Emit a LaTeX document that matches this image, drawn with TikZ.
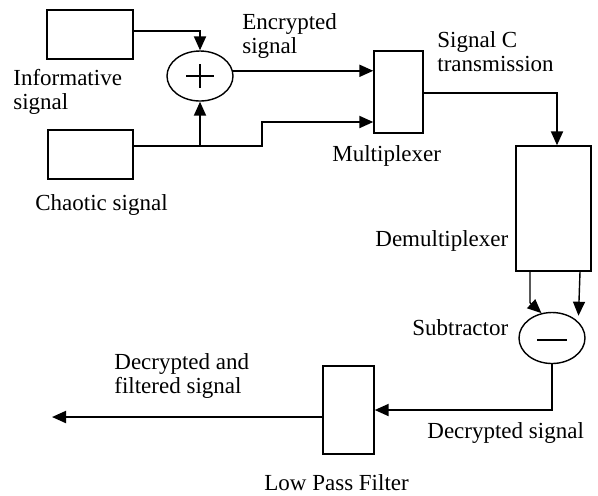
\documentclass[tikz,border=0pt]{standalone}
\usepackage{fontspec}
\setmainfont{Liberation Serif}
\usetikzlibrary{arrows.meta,shapes.geometric}

\begin{document}
\begin{tikzpicture}[x=0.5pt,y=-0.5pt]
    \tikzstyle{block}=[draw, line width=0.7pt, inner sep=0pt]
    \tikzstyle{sum}=[draw, ellipse, line width=0.7pt, inner sep=0pt, minimum width=33pt, minimum height=25pt]
    \tikzstyle{txt}=[anchor=base west, inner sep=0pt, align=left, font=\fontsize{11.5}{11.75}\selectfont]
    \tikzstyle{wire}=[line width=1pt, -{Triangle[length=7pt,width=6pt]}]
    \useasboundingbox (0,0) rectangle (598,495);
    \node[block, minimum width=43pt, minimum height=24.5pt] (info) at (90,34.5) {};
    \node[block, minimum width=42.5pt, minimum height=24.5pt] (chaos) at (90.5,154.5) {};
    \node[sum] (add) at (200,76) {};
    \node[block, minimum width=24.5pt, minimum height=41pt] (mux) at (398.5,92) {};
    \node[block, minimum width=37.5pt, minimum height=62.5pt] (demux) at (553.5,208.5) {};
    \node[sum, minimum height=25.5pt] (sub) at (552,338) {};
    \node[block, minimum width=25.5pt, minimum height=44pt] (lpf) at (348.5,410) {};
    \draw[line width=0.6pt] (add.center) +(-14,0) -- +(14,0) +(0,-12) -- +(0,12);
    \draw[line width=0.6pt] (sub.center) +(-15,2) -- +(15,2);
    \coordinate (fork) at (200,146);
    \coordinate (bend) at (262,146);
    \coordinate (out) at (52,417);
    \draw[wire] ([yshift=1.75pt]info.east) -| (add.north);
    \draw[wire] ([yshift=4.25pt]chaos.east) -| (add.south);
    \draw[wire] (fork) -- (bend) |- ([yshift=-15pt]mux.west);
    \draw[wire] (add.9) -- (mux.west |- add.9);
    \draw[wire] ([yshift=-0.5pt]mux.east) -| ([xshift=1.75pt]demux.north);
    \draw[wire, line width=0.7pt] ([xshift=-11.75pt]demux.south) -- ++(0,31) -- (sub.113);
    \draw[wire, line width=0.7pt] ([xshift=13.25pt]demux.south) -- ++(-1.5,44);
    \draw[wire] (sub.south) |- (lpf.east);
    \draw[wire] ([yshift=-3.5pt]lpf.west) -- (out);
    \foreach \n/\x/\y/\t in {inform/13/109/{Informative\\signal}, chaotic/35/210/{Chaotic signal},
    encrypted/242/53/{Encrypted\\signal}, transm/437/71/{Signal C\\transmission},
    muxname/332/161/Multiplexer, demuxname/375/246/Demultiplexer, subname/412/335/Subtractor,
    filtered/114/393/{Decrypted and\\filtered signal}, decrypted/427/438/{Decrypted signal},
    lpfname/264/490/{Low Pass Filter}}
        \node[txt] (\n) at (\x,\y) {\t};
\end{tikzpicture}
\end{document}
